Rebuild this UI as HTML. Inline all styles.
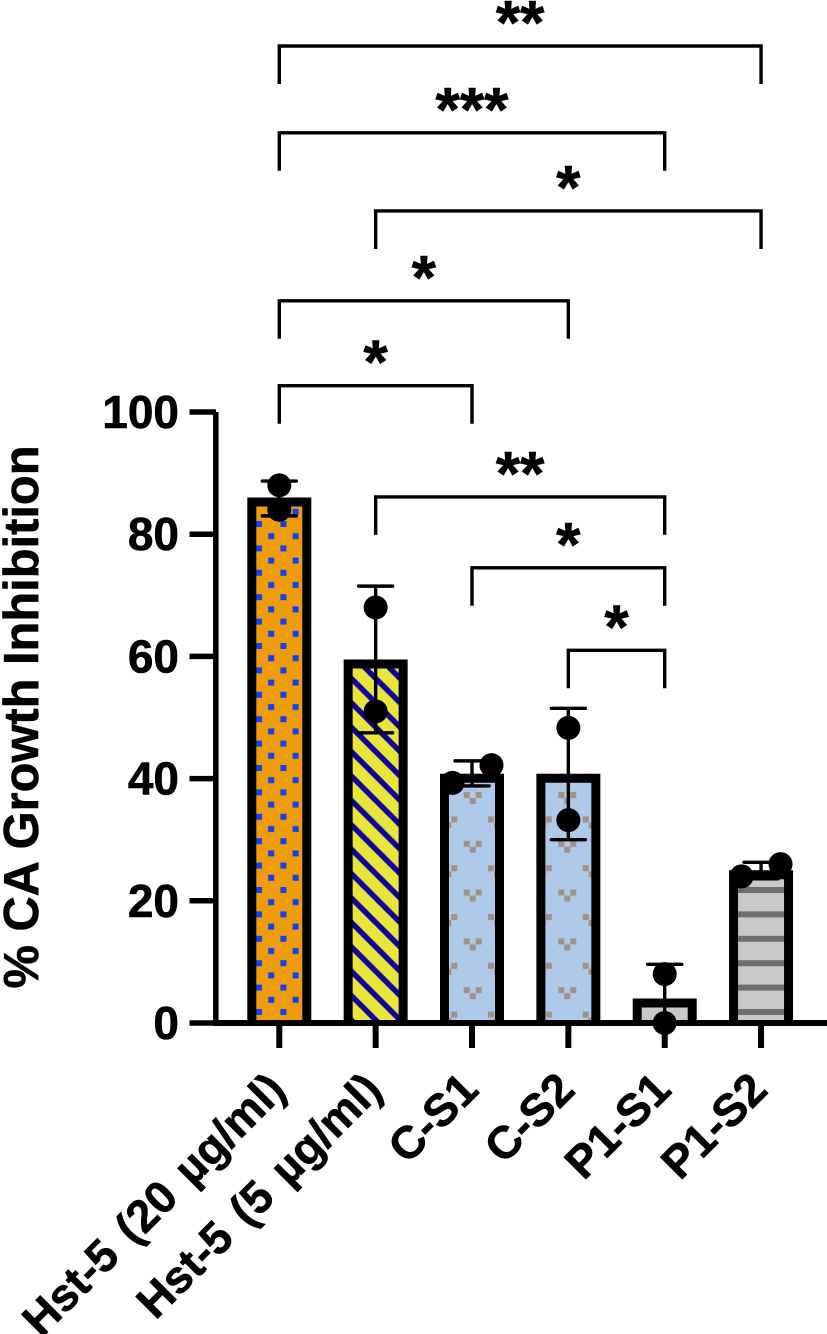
<!DOCTYPE html>
<html lang="en">
<head>
<meta charset="utf-8">
<title>% CA Growth Inhibition</title>
<style>
html,body{margin:0;padding:0;background:#fff;}
body{width:827px;height:1334px;overflow:hidden;}
svg{display:block;}
text{font-family:"Liberation Sans",Arial,sans-serif;font-weight:700;fill:#000;stroke:#000;stroke-width:0.6px;}
</style>
</head>
<body>
<svg id="chart" xmlns="http://www.w3.org/2000/svg" width="827" height="1334" viewBox="0 0 827 1334">
  <defs>
    <pattern id="fill-dots" patternUnits="userSpaceOnUse" x="253" y="518" width="24.4" height="24.4">
      <rect width="24.4" height="24.4" fill="#ee9b0c"/>
      <rect x="3" y="3" width="6" height="6" fill="#1040fa"/>
      <rect x="15.2" y="15.2" width="6" height="6" fill="#1040fa"/>
    </pattern>
    <pattern id="fill-hatch" patternUnits="userSpaceOnUse" x="353.3" y="900" width="24.4" height="24.4">
      <rect width="24.4" height="24.4" fill="#e8e63a"/>
      <path d="M-6,-6L30.4,30.4M18.4,-6L30.4,6M-6,18.4L6,30.4" stroke="#10009c" stroke-width="5.5" fill="none"/>
    </pattern>
    <pattern id="fill-motif-a" patternUnits="userSpaceOnUse" x="460.7" y="789" width="48.8" height="48.8">
      <rect width="48.8" height="48.8" fill="#aec9ea"/>
      <g fill="#a09284">
        <rect x="3" y="3" width="6" height="6"/><rect x="15" y="3" width="6" height="6"/><rect x="9" y="9" width="6" height="6"/>
        <rect x="27.4" y="27.4" width="6" height="6"/><rect x="39.4" y="27.4" width="6" height="6"/><rect x="33.4" y="33.4" width="6" height="6"/>
      </g>
    </pattern>
    <pattern id="fill-motif-b" patternUnits="userSpaceOnUse" x="555.3" y="789" width="48.8" height="48.8">
      <rect width="48.8" height="48.8" fill="#aec9ea"/>
      <g fill="#a09284">
        <rect x="3" y="3" width="6" height="6"/><rect x="15" y="3" width="6" height="6"/><rect x="9" y="9" width="6" height="6"/>
        <rect x="27.4" y="27.4" width="6" height="6"/><rect x="39.4" y="27.4" width="6" height="6"/><rect x="33.4" y="33.4" width="6" height="6"/>
      </g>
    </pattern>
    <pattern id="fill-bands" patternUnits="userSpaceOnUse" x="0" y="887" width="24.4" height="24.4">
      <rect width="24.4" height="24.4" fill="#c9c9c9"/>
      <rect y="0" width="24.4" height="6" fill="#6e6e6e"/>
    </pattern>
    <pattern id="fill-plain" patternUnits="userSpaceOnUse" x="0" y="0" width="24.4" height="24.4">
      <rect width="24.4" height="24.4" fill="#c9c9c9"/>
    </pattern>
  </defs>
</svg>
<script>
// ---- chart data ----
const categories = ['Hst-5 (20 µg/ml)', 'Hst-5 (5 µg/ml)', 'C-S1', 'C-S2', 'P1-S1', 'P1-S2'];
const barMeans = [86, 59.5, 40.8, 40.8, 4, 25];
const errorUpper = [88.7, 71.5, 42.9, 51.5, 9.6, 26.3];
const errorLower = [83, 47.5, 38.8, 30, 0, 23.6];
const pointsA = [88, 68, 39.3, 48.3, 8, 24];
const pointsB = [84, 51, 42.2, 33.2, 0, 26];
const yTicks = [0, 20, 40, 60, 80, 100];
const barFills = ['fill-dots', 'fill-hatch', 'fill-motif-a', 'fill-motif-b', 'fill-plain', 'fill-bands'];
const bracketFrom = [0, 0, 1, 0, 0, 1, 2, 3];
const bracketTo = [5, 4, 5, 3, 2, 4, 4, 4];
const bracketLevels = [159.9, 145.7, 132.9, 118.2, 104.3, 86.1, 74.5, 61];
const bracketLabels = ['**', '***', '*', '*', '*', '**', '*', '*'];

// ---- axis functions ----
const svg = document.getElementById('chart');
const NS = 'http://www.w3.org/2000/svg';
function xPos(i) { return 279.3 + 96.35 * i; }
function yPos(v) { return 1023 - 6.11 * v; }
function make(tag, attrs) {
  const el = document.createElementNS(NS, tag);
  for (const k in attrs) el.setAttribute(k, attrs[k]);
  svg.appendChild(el);
  return el;
}

// bars
barMeans.forEach(function (v, i) {
  const cx = xPos(i), top = yPos(v), base = yPos(0);
  const fill = make('rect', { x: cx - 28, y: top, width: 56, height: Math.max(0, base - top), fill: 'url(#' + barFills[i] + ')' });
  
  
  const outline = make('path', {
    d: 'M' + (cx - 27.5) + ',' + base + 'V' + (top + 4.5) + 'H' + (cx + 27.5) + 'V' + base,
    fill: 'none', stroke: '#000', 'stroke-width': 9, 'stroke-linejoin': 'miter'
  });
  
  
});

// axes
const yAxis = make('path', { d: 'M215.8,' + yPos(100) + 'V1026', stroke: '#000', 'stroke-width': 5.5, fill: 'none' });


const xAxis = make('path', { d: 'M213,' + yPos(0) + 'H827', stroke: '#000', 'stroke-width': 6, fill: 'none' });



yTicks.forEach(function (t) {
  const y = yPos(t);
  const tick = make('path', { d: 'M189.5,' + y + 'H216', stroke: '#000', 'stroke-width': 5.5, fill: 'none' });
  
  
  const label = make('text', { x: 179, y: y + 16, 'text-anchor': 'end', 'font-size': 46 });
  label.textContent = String(t);
  
  
});

categories.forEach(function (c, i) {
  const cx = xPos(i);
  const tick = make('path', { d: 'M' + cx + ',' + yPos(0) + 'V1048', stroke: '#000', 'stroke-width': 6, fill: 'none' });
  
  
  const ax = cx + 8.5, ay = 1092;
  const label = make('text', { x: ax, y: ay, 'text-anchor': 'end', 'font-size': 45.5, 'word-spacing': 4.5, transform: 'rotate(-45 ' + ax + ' ' + ay + ')' });
  label.textContent = c;
  
  
});

// error bars
barMeans.forEach(function (v, i) {
  const cx = xPos(i), hi = yPos(errorUpper[i]), lo = yPos(errorLower[i]);
  const err = make('path', {
    d: 'M' + (cx - 17) + ',' + hi + 'H' + (cx + 17) + 'M' + cx + ',' + hi + 'V' + lo + 'M' + (cx - 17) + ',' + lo + 'H' + (cx + 17),
    stroke: '#000', 'stroke-width': 3.4, 'stroke-linecap': 'round', fill: 'none'
  });
  
  
});

// replicate points: overlapping points are spread sideways, the lower one on the left
barMeans.forEach(function (v, i) {
  const a = pointsA[i], b = pointsB[i];
  const gap = Math.abs(yPos(a) - yPos(b));
  const spread = gap < 23 ? 19.5 : 0;
  [a, b].forEach(function (p, k) {
    const other = k === 0 ? b : a;
    const dx = p < other ? -spread : spread;
    const dot = make('circle', { cx: xPos(i) + dx, cy: yPos(p), r: 12, fill: '#000' });
    
    
  });
});

// significance brackets
bracketFrom.forEach(function (from, n) {
  const x1 = xPos(from), x2 = xPos(bracketTo[n]), y = yPos(bracketLevels[n]);
  const br = make('path', {
    d: 'M' + x1 + ',' + (y + 38) + 'V' + y + 'H' + x2 + 'V' + (y + 38),
    stroke: '#000', 'stroke-width': 3.4, fill: 'none', 'stroke-linejoin': 'miter'
  });
  
  
  const star = make('text', { x: (x1 + x2) / 2, y: y - 2, 'text-anchor': 'middle', 'font-size': 62.5 });
  star.textContent = bracketLabels[n];
  
  
});

// y-axis title
const yTitle = make('text', { x: 38, y: 717, 'text-anchor': 'middle', 'font-size': 48.8, transform: 'rotate(-90 38 717)' });
yTitle.textContent = '% CA Growth Inhibition';


</script>
</body>
</html>
